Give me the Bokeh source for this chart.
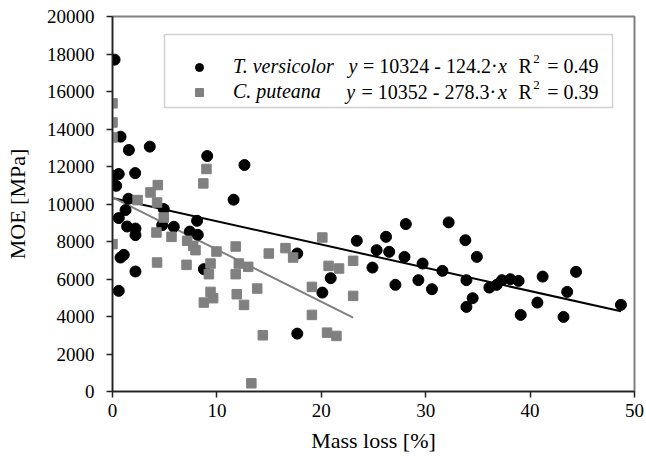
from bokeh.plotting import figure
from bokeh.models import (Range1d, FixedTicker, Legend, LegendItem, BoxAnnotation, Label)
from bokeh.embed import file_html
from bokeh.resources import INLINE

# ---- data ----
tv_mass_loss = [0.2, 0.77, 1.57, 3.57, 9.07, 12.64, 0.13, 0.6, 0.35, 2.17, 1.53, 11.6,
                1.25, 0.6, 4.91, 1.4, 2.2, 2.2, 4.76, 5.87, 8.1, 7.4, 8.17, 0.77, 1.08,
                2.2, 0.6, 8.75, 17.7, 17.7, 23.4, 25.3, 26.2, 26.5, 24.9, 28.1, 27.97,
                27.1, 29.7, 29.3, 30.6, 31.6, 32.2, 33.8, 34.9, 33.9, 34.5, 33.9, 20.9,
                20.1, 36.1, 36.8, 37.3, 38.1, 38.9, 39.1, 41.2, 40.7, 44.4, 43.55, 43.2,
                48.7]
tv_moe = [17700, 13590, 12880, 13060, 12560, 12080, 11510, 11600, 10970, 11650, 10280,
          10230, 9675, 9250, 9730, 8800, 8690, 8340, 8875, 8785, 9105, 8530, 8357, 7145,
          7290, 6400, 5367, 6525, 3087, 7360, 8037, 7540, 8250, 7450, 6610, 8930, 7180,
          5690, 6825, 5938, 5457, 6435, 9020, 8070, 7180, 5938, 4977, 4512, 6045, 5276,
          5543, 5687, 5938, 5990, 5900, 4085, 6130, 4742, 6381, 5313, 3978, 4620]

cp_mass_loss = [0.0, 0.0, 0.0, 4.34, 3.64, 9.0, 8.7, 2.4, 4.27, 4.91, 4.21, 5.65, 0.0,
                4.27, 7.15, 7.73, 7.95, 7.09, 9.96, 9.39, 9.23, 11.8, 11.8, 12.1, 13.0,
                9.39, 8.75, 9.64, 11.9, 12.6, 13.86, 14.4, 13.3, 14.97, 16.57, 17.3,
                20.1, 20.7, 21.7, 23.05, 19.1, 23.05, 19.1, 20.55, 21.45]
cp_moe = [15370, 14350, 13550, 11010, 10620, 11870, 11100, 10210, 10080, 9280, 8480,
          8250, 7860, 6880, 8037, 7770, 7540, 6755, 7466, 6825, 6258, 7733, 6258, 6825,
          6650, 5313, 4742, 4977, 5190, 4619, 5490, 3000, 438, 7360, 7647, 7145, 8213,
          6700, 6560, 6970, 5580, 5100, 4085, 3140, 2964]

# regression coefficients (from the legend)
tv_fit = (10324, -124.2)
cp_fit = (10352, -278.3)

x_ticks = [0, 10, 20, 30, 40, 50]
y_ticks = [0, 2000, 4000, 6000, 8000, 10000, 12000, 14000, 16000, 18000, 20000]

FONT = "'Liberation Serif', 'Times New Roman', serif"
GRAY = "#808080"

p = figure(width=646, height=458, output_backend="svg", toolbar_location=None,
           x_range=Range1d(0, 50), y_range=Range1d(0, 20000),
           min_border_left=112, min_border_right=12, min_border_top=16,
           min_border_bottom=67)
p.xgrid.visible = False
p.ygrid.visible = False
p.background_fill_color = "white"
p.border_fill_color = "white"
p.outline_line_color = GRAY
p.outline_line_width = 2

for ax in (p.xaxis[0], p.yaxis[0]):
    ax.axis_line_color = "#222222"
    ax.axis_line_width = 1.5
    ax.major_tick_line_color = "#222222"
    ax.major_tick_line_width = 1.5
    ax.major_tick_out = 6
    ax.major_tick_in = 0
    ax.minor_tick_line_color = None
    ax.major_label_text_font = FONT
    ax.major_label_text_font_size = "19px"
    ax.major_label_text_color = "black"
    ax.axis_label_text_font = FONT
    ax.axis_label_text_font_size = "22px"
    ax.axis_label_text_font_style = "normal"
    ax.axis_label_text_color = "black"

p.xaxis.ticker = FixedTicker(ticks=x_ticks)
p.yaxis.ticker = FixedTicker(ticks=y_ticks)
p.xaxis.axis_label = "Mass loss [%]"
p.yaxis.axis_label = "MOE [MPa]"
p.yaxis.major_label_standoff = 12
p.yaxis.axis_label_standoff = 14
p.xaxis.major_label_standoff = 6
p.xaxis.axis_label_standoff = 8

# regression lines
tv_x = [0, max(tv_mass_loss)]
tv_y = [tv_fit[0] + tv_fit[1] * v for v in tv_x]
cp_x = [0, max(cp_mass_loss)]
cp_y = [cp_fit[0] + cp_fit[1] * v for v in cp_x]
p.line(tv_x, tv_y, line_color="black", line_width=2)
p.line(cp_x, cp_y, line_color=GRAY, line_width=2)

r_tv = p.scatter(tv_mass_loss, tv_moe, marker="circle", size=11,
                 fill_color="black", line_color="black")
r_cp = p.scatter(cp_mass_loss, cp_moe, marker="square", size=9.5,
                 fill_color=GRAY, line_color=GRAY)

# legend box
box = BoxAnnotation(left=4.98, right=47.9, top=19040, bottom=15146,
                    fill_color="white", fill_alpha=1.0,
                    line_color="#666666", line_width=1.5)
p.add_layout(box)

legend = Legend(items=[LegendItem(label="T. versicolor", renderers=[r_tv]),
                       LegendItem(label="C. puteana", renderers=[r_cp])],
                location=(77, 288), margin=0, padding=0, spacing=2,
                glyph_width=20, glyph_height=20, label_height=20,
                label_standoff=24, border_line_alpha=0, background_fill_alpha=0,
                label_text_font=FONT, label_text_font_size="20px",
                label_text_font_style="italic", label_text_color="black")
p.add_layout(legend)

def lab(x, y, text, style="normal", size="20px", y_off=0):
    p.add_layout(Label(x=x, y=y, text=text, text_font=FONT, text_font_size=size,
                       text_font_style=style, text_color="black",
                       text_baseline="middle", text_align="left", y_offset=y_off))

rows = [(17386, "10324 - 124.2", "0.49", 22.61, 24.0),
        (16000, "10352 - 278.3", "0.39", 22.38, 23.85)]
for yy, eq, r2, xy, xeq in rows:
    lab(xy, yy, "y", "italic")
    lab(xeq, yy, "= " + eq + "\u00b7")
    lab(36.92, yy, "x", "italic")
    lab(38.89, yy, "R")
    lab(40.3, yy, "2", size="13px", y_off=7)
    lab(41.64, yy, "= " + r2)

open("out.html", "w").write(file_html(p, INLINE))
